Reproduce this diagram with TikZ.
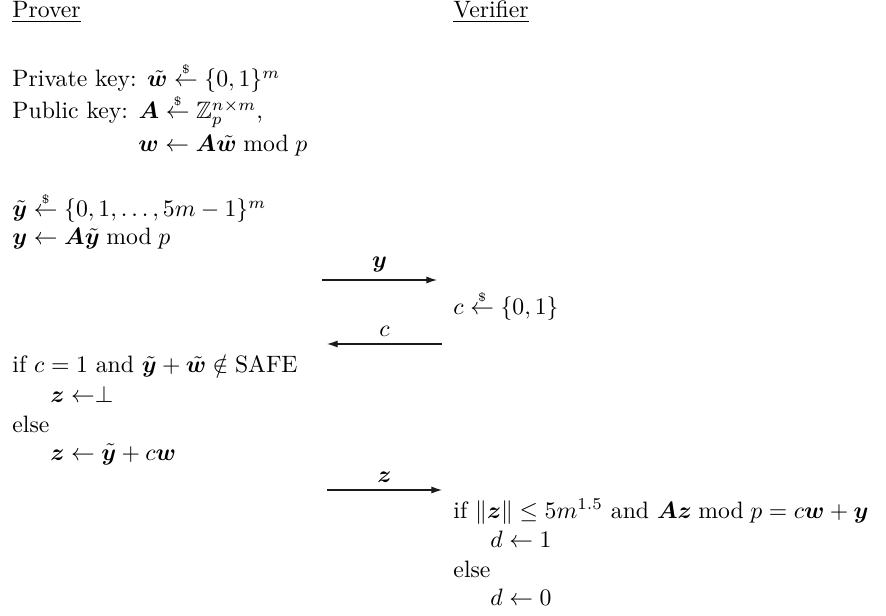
\documentclass[tikz,border=0pt]{standalone}
\usepackage{amsmath,amssymb}
\usepackage{bm}
\usepackage{xcolor}
\usepackage{tikz}
\usetikzlibrary{arrows.meta}
\definecolor{textcolor}{HTML}{000000}
\definecolor{msgcolor}{HTML}{1A1A1A}
\newcommand{\sample}{\mathrel{\overset{\scriptscriptstyle\$}{\leftarrow}}}
\tikzset{
  >=Latex,
  party title/.style={
    anchor=base west,
    inner sep=0pt,
    text=textcolor
  },
  proto line/.style={
    anchor=base west,
    inner sep=0pt,
    text=textcolor
  },
  message/.style={
    draw=msgcolor,
    line width=0.5pt,
    -{Latex[length=4.5pt,width=3pt]}
  },
  message label/.style={
    above,
    inner sep=3pt,
    text=textcolor
  }
}

\begin{document}
\begin{tikzpicture}[x=0.4219pt,y=-0.4219pt]
  \useasboundingbox (0,0) rectangle (886,616);

  \node[party title] (P) at (12,18) {\underline{Prover}};
  \node[party title] (V) at (453,18) {\underline{Verifier}};

  \node[proto line] (P-1) at (12,87) {Private key: $\tilde{\bm{w}} \sample \{0,1\}^m$};
  \node[proto line] (P-2) at (12,119) {Public key: $\bm{A} \sample \mathbb{Z}_p^{n\times m}$,};
  \node[proto line] (P-3) at (138,152) {$\bm{w} \leftarrow \bm{A}\tilde{\bm{w}} \bmod p$};

  \node[proto line] (P-4) at (12,217) {$\tilde{\bm{y}} \sample \{0,1,\ldots,5m-1\}^m$};
  \node[proto line] (P-5) at (12,245) {$\bm{y} \leftarrow \bm{A}\tilde{\bm{y}} \bmod p$};

  \node[proto line] (V-1) at (453,315) {$c \sample \{0,1\}$};

  \node[proto line] (P-6) at (12,373) {if $c=1$ and $\tilde{\bm{y}}+\tilde{\bm{w}} \notin \mathrm{SAFE}$};
  \node[proto line] (P-7) at (50,402) {$\bm{z} \leftarrow \perp$};
  \node[proto line] (P-8) at (12,432) {else};
  \node[proto line] (P-9) at (50,460) {$\bm{z} \leftarrow \tilde{\bm{y}}+c\bm{w}$};

  \node[proto line] (V-2) at (453,518) {if $\|\bm{z}\| \le 5m^{1.5}$ and $\bm{A}\bm{z} \bmod p = c\bm{w}+\bm{y}$};
  \node[proto line] (V-3) at (490,547) {$d \leftarrow 1$};
  \node[proto line] (V-4) at (453,577) {else};
  \node[proto line] (V-5) at (490,605) {$d \leftarrow 0$};

  % message ends
  \coordinate (M-1a) at (322,280);
  \coordinate (M-1b) at (437,280);
  \coordinate (M-2a) at (442,344);
  \coordinate (M-2b) at (327,344);
  \coordinate (M-3a) at (327,490);
  \coordinate (M-3b) at (442,490);

  \draw[message] (M-1a) -- node[message label] {$\bm{y}$} (M-1b);
  \draw[message] (M-2a) -- node[message label] {$c$} (M-2b);
  \draw[message] (M-3a) -- node[message label] {$\bm{z}$} (M-3b);
\end{tikzpicture}
\end{document}
